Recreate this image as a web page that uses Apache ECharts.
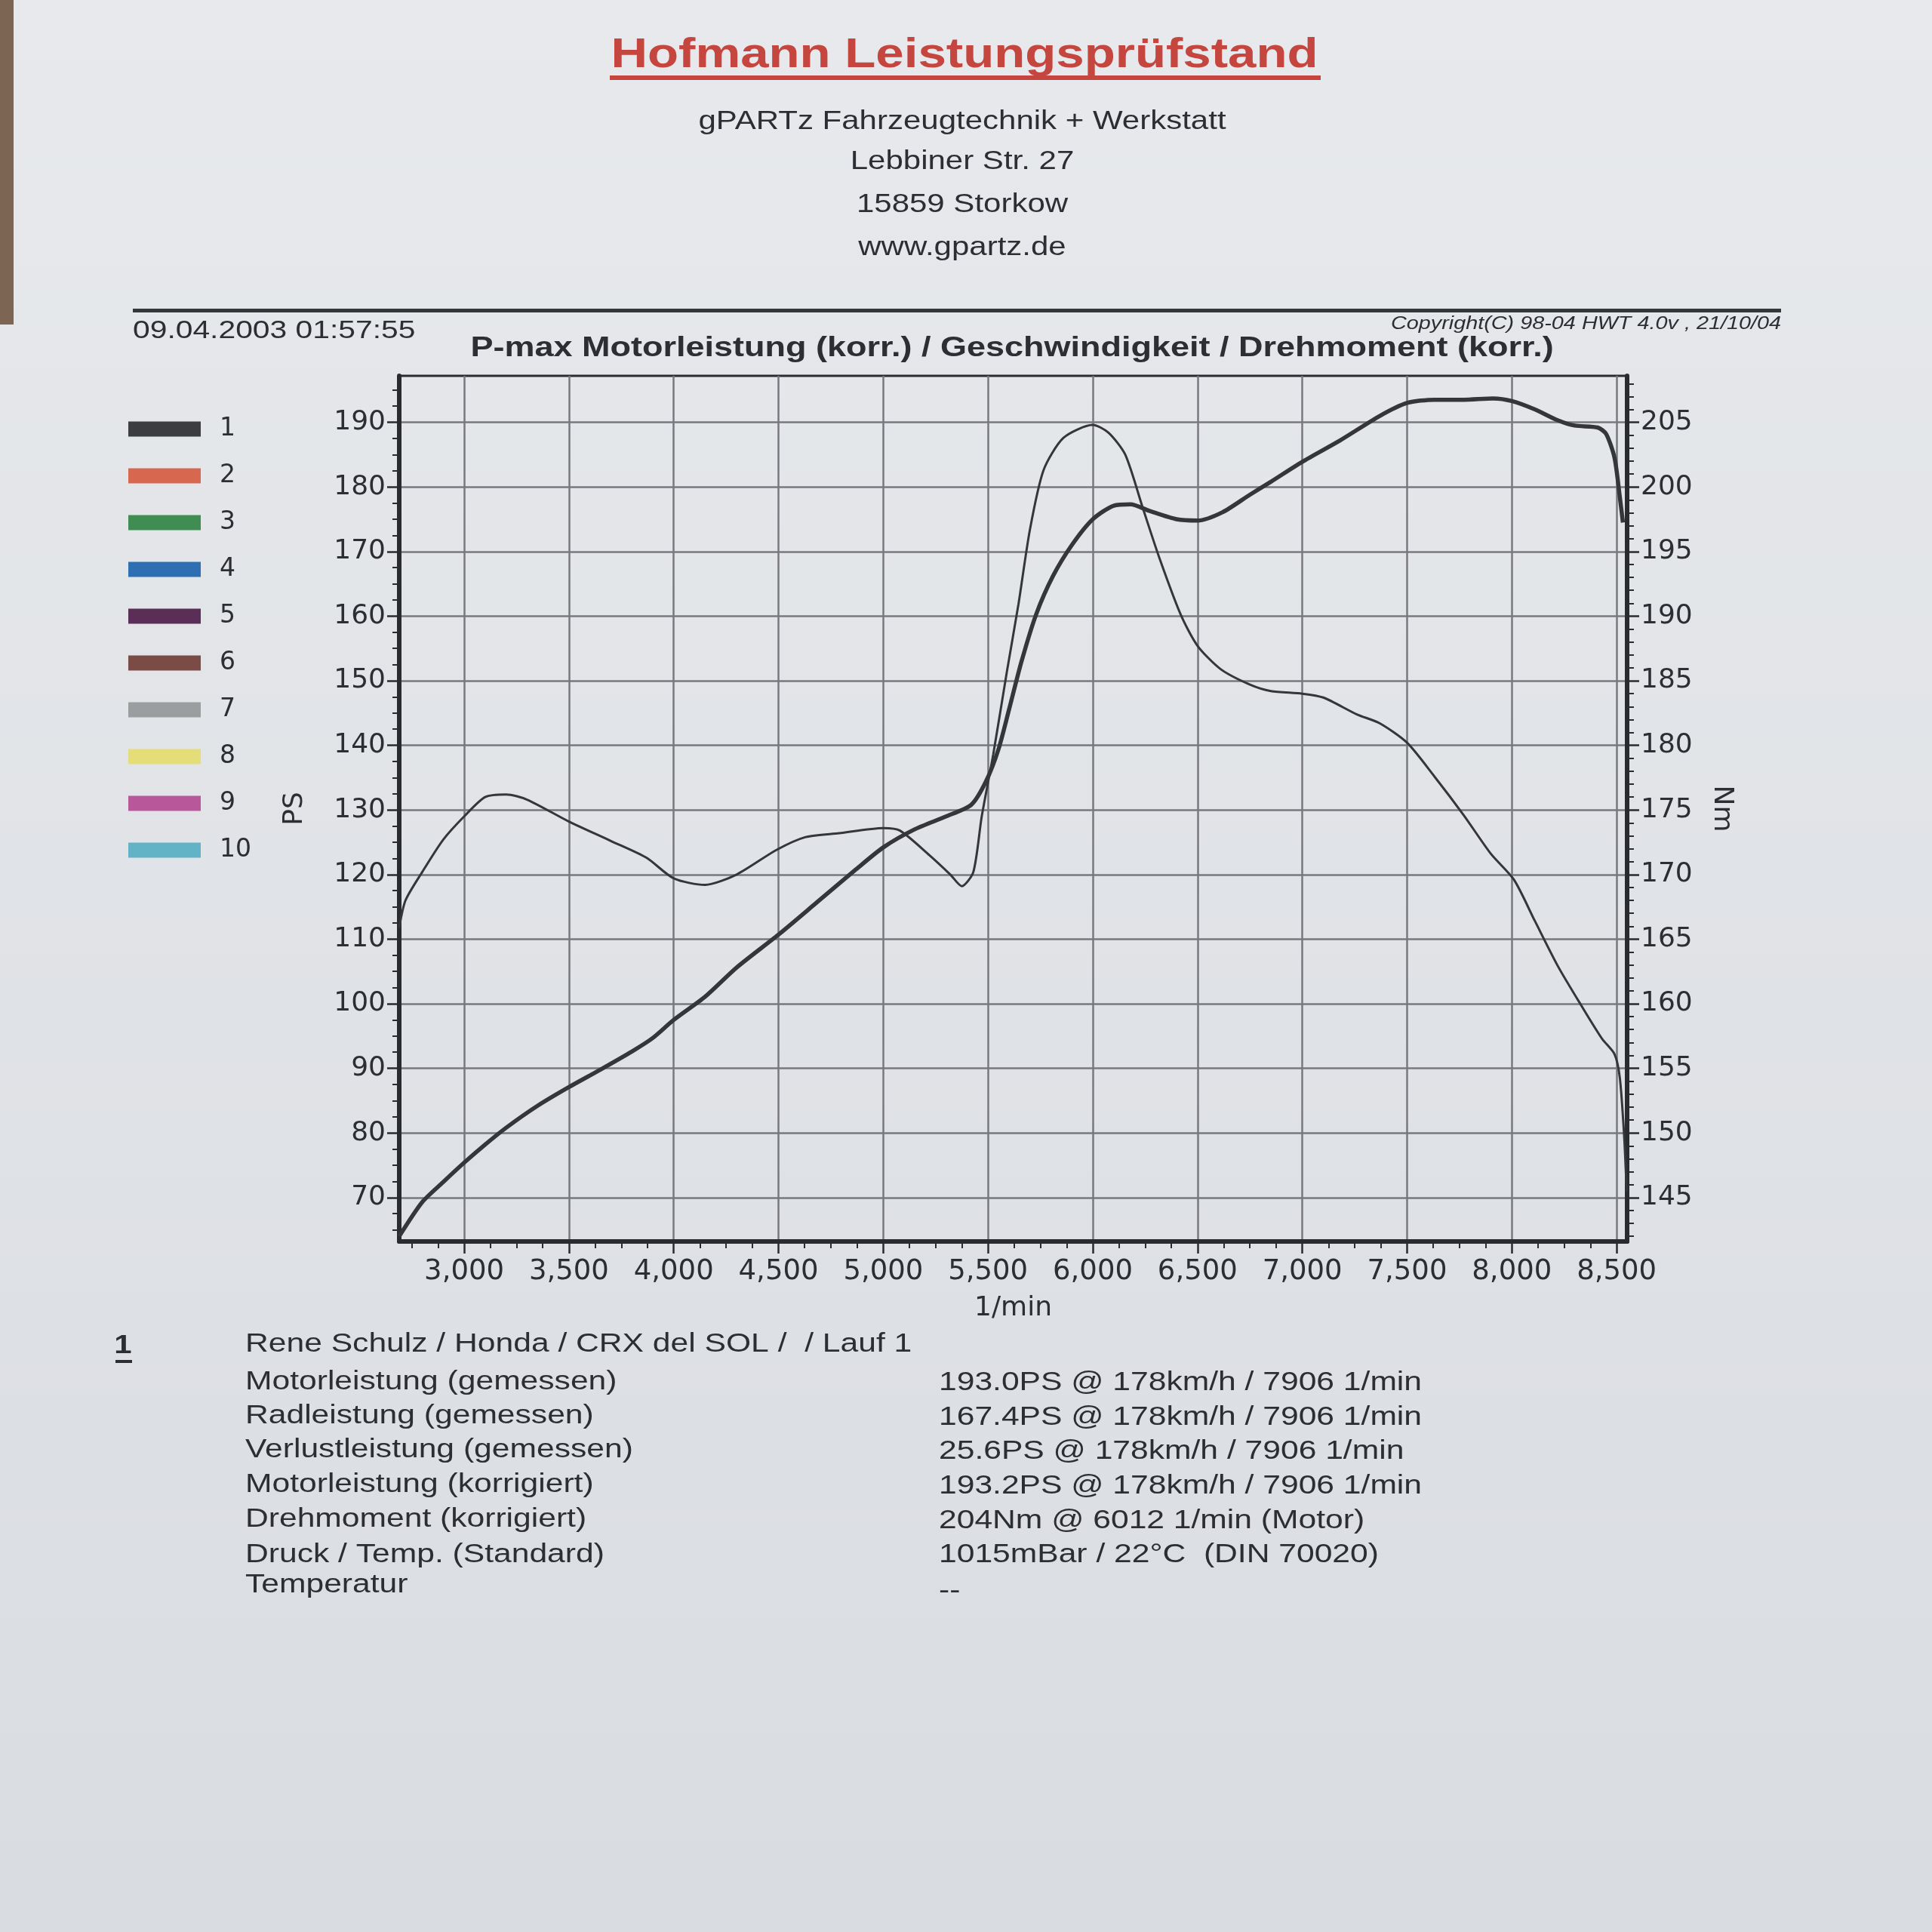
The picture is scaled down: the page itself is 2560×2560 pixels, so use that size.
<!DOCTYPE html>
<html>
<head>
<meta charset="utf-8">
<script src="https://cdn.jsdelivr.net/npm/echarts@6/dist/echarts.min.js"></script>
<style>
  html, body { margin: 0; padding: 0; background: #e3e5e9; }
  #chart { width: 2560px; height: 2560px; }
</style>
</head>
<body>
<div id="chart"></div>
<script>
// ---------------- data ----------------
const rpmTicks = [3000, 3500, 4000, 4500, 5000, 5500, 6000, 6500, 7000, 7500, 8000, 8500];
const psTicks = [70, 80, 90, 100, 110, 120, 130, 140, 150, 160, 170, 180, 190];
const nmTicks = [145, 150, 155, 160, 165, 170, 175, 180, 185, 190, 195, 200, 205];

// Motorleistung (korr.) [PS] – run 1
const powerRpm = [2690, 2800, 2900, 3000, 3100, 3200, 3350, 3500, 3650, 3800, 3900, 4000, 4150, 4300, 4500, 4680, 4870, 5000, 5150, 5300, 5420, 5490, 5550, 5600, 5660, 5730, 5810, 5900, 6000, 6100, 6180, 6270, 6400, 6500, 6620, 6750, 6850, 7000, 7180, 7370, 7500, 7630, 7770, 7910, 8000, 8110, 8220, 8300, 8410, 8450, 8490, 8515, 8530];
const powerPS = [64.0, 69.3, 72.4, 75.4, 78.2, 80.8, 84.2, 87.1, 89.8, 92.6, 94.7, 97.5, 101.1, 105.6, 110.7, 115.6, 120.8, 124.2, 127.0, 129.0, 130.8, 134.4, 139.4, 145.5, 153.0, 160.3, 166.2, 171.0, 175.0, 177.1, 177.3, 176.3, 175.0, 174.8, 176.1, 178.8, 180.8, 183.9, 187.2, 191.0, 193.0, 193.5, 193.5, 193.7, 193.3, 192.0, 190.3, 189.5, 189.2, 188.2, 184.5, 178.5, 174.5];

// Drehmoment (korr.) [Nm] – run 1
const torqueRpm = [2690, 2720, 2800, 2900, 3000, 3100, 3200, 3300, 3500, 3700, 3870, 4000, 4150, 4300, 4490, 4630, 4790, 5000, 5080, 5220, 5320, 5375, 5430, 5470, 5525, 5590, 5645, 5700, 5765, 5860, 6000, 6075, 6155, 6240, 6320, 6420, 6500, 6610, 6750, 6850, 7000, 7100, 7260, 7370, 7500, 7630, 7770, 7900, 8010, 8110, 8220, 8330, 8430, 8490, 8515, 8535, 8548];
const torqueNm = [165.9, 168.0, 170.2, 172.7, 174.5, 176.0, 176.2, 175.8, 174.1, 172.6, 171.3, 169.7, 169.2, 170.0, 171.9, 172.9, 173.2, 173.6, 173.4, 171.5, 170.0, 169.1, 170.2, 174.5, 179.3, 185.7, 190.9, 196.7, 201.3, 203.8, 204.8, 204.2, 202.5, 198.3, 194.4, 190.1, 187.7, 185.9, 184.7, 184.2, 184.0, 183.7, 182.4, 181.7, 180.2, 177.6, 174.6, 171.6, 169.6, 166.4, 162.9, 159.9, 157.3, 156.1, 154.3, 150.0, 145.5];

const runNames = ['1', '2', '3', '4', '5', '6', '7', '8', '9', '10'];
const runColors = ['#3b3d41', '#d8674f', '#3f8d52', '#2e6fb4', '#5b2e58', '#7b4b46', '#9a9e9f', '#e4dd78', '#b8589a', '#62b3c6'];

const headerLines = ['gPARTz Fahrzeugtechnik + Werkstatt', 'Lebbiner Str. 27', '15859 Storkow', 'www.gpartz.de'];
const infoLabels = ['Rene Schulz / Honda / CRX del SOL /  / Lauf 1', 'Motorleistung (gemessen)', 'Radleistung (gemessen)', 'Verlustleistung (gemessen)', 'Motorleistung (korrigiert)', 'Drehmoment (korrigiert)', 'Druck / Temp. (Standard)', 'Temperatur'];
const infoValues = ['', '193.0PS @ 178km/h / 7906 1/min', '167.4PS @ 178km/h / 7906 1/min', '25.6PS @ 178km/h / 7906 1/min', '193.2PS @ 178km/h / 7906 1/min', '204Nm @ 6012 1/min (Motor)', '1015mBar / 22°C  (DIN 70020)', '--'];

// ---------------- helpers ----------------
const INK = '#2c2e33';
const GRIDC = '#77797e';
const AX = 'DejaVu Sans';
const TX = 'Liberation Sans';
function minorTicks(from, to, step, majorStep) {
  const out = [];
  for (let v = from; v <= to + 1e-9; v += step) {
    const r = Math.round(v * 1000) / 1000;
    if (Math.abs(r / majorStep - Math.round(r / majorStep)) > 1e-6) out.push(r);
  }
  return out;
}
const rpmMinor = minorTicks(2750, 8500, 125, 500);
const psMinor = minorTicks(65, 195, 2.5, 10);
const nmMinor = minorTicks(142, 208, 1, 5);
const fmtK = v => String(v).replace(/\B(?=(\d{3})+(?!\d))/g, ',');

function txt(x, y, text, size, opts) {
  opts = opts || {};
  return {
    type: 'text', x: x, y: y, scaleX: opts.sx || 1.2, z: 10,
    style: {
      text: text, fontSize: size, fontFamily: opts.family || TX,
      fontWeight: opts.weight || 'normal', fontStyle: opts.style || 'normal',
      fill: opts.fill || INK,
      align: opts.align || 'left', textAlign: opts.align || 'left',
      verticalAlign: 'middle', textVerticalAlign: 'middle'
    }
  };
}

const graphics = [
  { type: 'rect', z: -10, shape: { x: 0, y: 0, width: 2560, height: 2560 },
    style: { fill: { type: 'linear', x: 0, y: 0, x2: 0, y2: 1,
      colorStops: [{ offset: 0, color: '#e7e9ec' }, { offset: 1, color: '#d9dce1' }] } } },
  { type: 'rect', z: -9, shape: { x: 0, y: 0, width: 18, height: 430 }, style: { fill: '#7c6552' } },
  txt(1278, 74, 'Hofmann Leistungsprüfstand', 56, { weight: 'bold', fill: '#c4463f', align: 'center' }),
  { type: 'rect', z: 10, shape: { x: 808, y: 100, width: 942, height: 6 }, style: { fill: '#c4463f' } },
  { type: 'rect', z: 10, shape: { x: 176, y: 409, width: 2184, height: 5 }, style: { fill: '#34363a' } },
  txt(176, 439, '09.04.2003 01:57:55', 34),
  txt(2360, 429, 'Copyright(C) 98-04 HWT 4.0v , 21/10/04', 24, { style: 'italic', align: 'right' }),
  txt(1341, 462, 'P-max Motorleistung (korr.) / Geschwindigkeit / Drehmoment (korr.)', 37.5, { weight: 'bold', align: 'center' }),
  txt(163, 1783, '1', 35, { weight: 'bold', align: 'center' }),
  { type: 'rect', z: 10, shape: { x: 153, y: 1802, width: 22, height: 4 }, style: { fill: INK } }
];
const headerY = [161, 214, 271, 328];
headerLines.forEach((t, i) => graphics.push(txt(1275, headerY[i], t, 35, { align: 'center' })));
const infoY = [1781, 1831, 1876, 1921, 1967, 2013, 2060, 2100];
const valY = [1781, 1832, 1878, 1923, 1969, 2015, 2060, 2108];
infoLabels.forEach((t, i) => {
  graphics.push(txt(325, infoY[i], t, 35.5));
  if (infoValues[i]) graphics.push(txt(1244, valY[i], infoValues[i], 35.5));
});

// ---------------- series ----------------
const series = [
  { name: '1', type: 'line', xAxisIndex: 0, yAxisIndex: 0, showSymbol: false, symbol: 'none', z: 5,
    smooth: 0.25,
    data: powerRpm.map((r, i) => [r, powerPS[i]]),
    itemStyle: { color: runColors[0] }, lineStyle: { color: '#34363a', width: 5.5 } },
  { name: '1', type: 'line', xAxisIndex: 0, yAxisIndex: 2, showSymbol: false, symbol: 'none', z: 5,
    smooth: 0.25,
    data: torqueRpm.map((r, i) => [r, torqueNm[i]]),
    itemStyle: { color: runColors[0] }, lineStyle: { color: '#34363a', width: 3 } }
];
for (let i = 1; i < runNames.length; i++) {
  series.push({ name: runNames[i], type: 'line', data: [], xAxisIndex: 0, yAxisIndex: 0,
    itemStyle: { color: runColors[i] }, lineStyle: { color: runColors[i] } });
}

const axisLineStyle = { show: true, lineStyle: { color: '#2a2b2e', width: 6 } };
const option = {
  animation: false,
  graphic: graphics,
  legend: {
    data: runNames, orient: 'vertical', left: 170, top: 552, padding: 0,
    icon: 'rect', itemWidth: 96, itemHeight: 20, itemGap: 29, selectedMode: false,
    textStyle: { fontFamily: AX, fontSize: 33, color: INK, lineHeight: 33, padding: [0, 0, 0, 20] }
  },
  grid: { left: 529, right: 404, top: 498, bottom: 915, show: true, borderColor: '#2a2b2e', borderWidth: 3, containLabel: false },
  xAxis: [
    { type: 'value', min: 2690, max: 8550, position: 'bottom',
      axisLine: axisLineStyle,
      axisTick: { show: true, customValues: rpmTicks, length: 16, lineStyle: { color: '#2a2b2e', width: 2.5 } },
      axisLabel: { customValues: rpmTicks, formatter: fmtK, fontFamily: AX, fontSize: 37, color: INK, margin: 22 },
      splitLine: { show: true, lineStyle: { color: GRIDC, width: 2.5 } },
      name: '1/min', nameLocation: 'middle', nameGap: 71,
      nameTextStyle: { fontFamily: AX, fontSize: 36, color: INK } },
    { type: 'value', min: 2690, max: 8550, position: 'bottom',
      axisLine: { show: false },
      axisTick: { show: true, customValues: rpmMinor, length: 9, lineStyle: { color: '#2a2b2e', width: 2 } },
      axisLabel: { show: false }, splitLine: { show: false } }
  ],
  yAxis: [
    { type: 'value', min: 63.2, max: 197.2, position: 'left',
      axisLine: axisLineStyle,
      axisTick: { show: true, customValues: psTicks, length: 16, lineStyle: { color: '#2a2b2e', width: 2.5 } },
      axisLabel: { customValues: psTicks, fontFamily: AX, fontSize: 36, color: INK, margin: 18 },
      splitLine: { show: true, lineStyle: { color: GRIDC, width: 2.5 } },
      name: 'PS', nameLocation: 'middle', nameGap: 120, nameRotate: 90,
      nameTextStyle: { fontFamily: AX, fontSize: 36, color: INK } },
    { type: 'value', min: 63.2, max: 197.2, position: 'left',
      axisLine: { show: false },
      axisTick: { show: true, customValues: psMinor, length: 9, lineStyle: { color: '#2a2b2e', width: 2 } },
      axisLabel: { show: false }, splitLine: { show: false } },
    { type: 'value', min: 141.6, max: 208.6, position: 'right',
      axisLine: axisLineStyle,
      axisTick: { show: true, customValues: nmTicks, length: 16, lineStyle: { color: '#2a2b2e', width: 2.5 } },
      axisLabel: { customValues: nmTicks, fontFamily: AX, fontSize: 36, color: INK, margin: 18 },
      splitLine: { show: false },
      name: 'Nm', nameLocation: 'middle', nameGap: 107, nameRotate: -90,
      nameTextStyle: { fontFamily: AX, fontSize: 36, color: INK } },
    { type: 'value', min: 141.6, max: 208.6, position: 'right',
      axisLine: { show: false },
      axisTick: { show: true, customValues: nmMinor, length: 9, lineStyle: { color: '#2a2b2e', width: 2 } },
      axisLabel: { show: false }, splitLine: { show: false } }
  ],
  series: series
};

const chart = echarts.init(document.getElementById('chart'), null, { renderer: 'canvas', width: 2560, height: 2560 });
chart.setOption(option);
</script>
</body>
</html>
